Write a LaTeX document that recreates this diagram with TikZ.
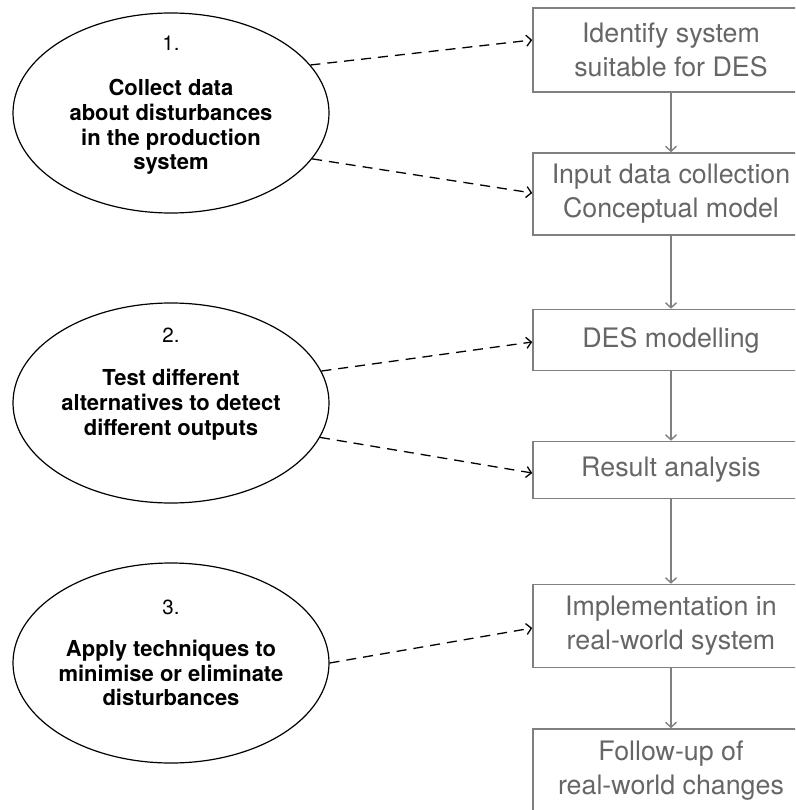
\documentclass[tikz,border=0pt]{standalone}
\usepackage{fontspec}
\setmainfont{TeX Gyre Heros}
\usetikzlibrary{shapes.geometric,arrows.meta}
\definecolor{boxline}{HTML}{808080}
\definecolor{boxtext}{HTML}{666666}
\tikzset{
  stepbox/.style={draw=boxline, line width=1.6pt, text=boxtext, align=center,
    minimum width=276pt, inner sep=0pt,
    font=\fontsize{26.8}{34}\selectfont},
  goal/.style={draw=black, line width=1.2pt, ellipse, minimum width=316pt,
    minimum height=200pt, inner sep=0pt},
  goalnum/.style={font=\fontsize{20.5}{24}\selectfont},
  goaltext/.style={align=center, font=\fontsize{22}{24.8}\selectfont\bfseries},
  flow/.style={draw=boxline, line width=1.4pt, -{Straight Barb[length=5pt,width=11pt]}},
  link/.style={draw=black, line width=1.3pt, dash pattern=on 10pt off 7pt,
    -{Straight Barb[length=5pt,width=11pt]}}
}
\begin{document}
\begin{tikzpicture}[x=1pt,y=-1pt]
\useasboundingbox (0,0) rectangle (795,810);
\clip (0,0) rectangle (795,810);

% process steps
\node[stepbox, minimum height=84pt] (b1) at (671,50) {Identify system\\suitable for DES};
\node[stepbox, minimum height=82pt] (b2) at (671,194) {Input data collection\\Conceptual model};
\node[stepbox, minimum height=61pt] (b3) at (671,340) {DES modelling};
\node[stepbox, minimum height=57pt] (b4) at (671,470) {Result analysis};
\node[stepbox, minimum height=83pt] (b5) at (671,626) {Implementation in\\real-world system};
\node[stepbox, minimum height=84pt] (b6) at (671,771) {Follow-up of\\real-world changes};

\draw[flow] (b1) -- (b2);
\draw[flow] (b2) -- (b3);
\draw[flow] (b3) -- (b4);
\draw[flow] (b4) -- (b5);
\draw[flow] (b5) -- (b6);

% improvement activities
\node[goal] (e1) at (171,113) {};
\node[goalnum] (n1) at (171,43) {1.};
\node[goaltext] (t1) at (171,127) {Collect data\\about disturbances\\in the production\\system};

\node[goal] (e2) at (171,403) {};
\node[goalnum] (n2) at (171,335) {2.};
\node[goaltext] (t2) at (171,405) {Test different\\alternatives to detect\\different outputs};

\node[goal] (e3) at (171,663) {};
\node[goalnum] (n3) at (171,607) {3.};
\node[goaltext] (t3) at (171,673) {Apply techniques to\\minimise or eliminate\\disturbances};

% links from activities to steps
\draw[link] (e1.19) -- ([yshift=10pt]b1.west);
\draw[link] (e1.-18) -- ([yshift=1pt]b2.west);
\draw[link] (e2.12) -- ([yshift=-2pt]b3.west);
\draw[link] (e2.-13) -- ([yshift=-3pt]b4.west);
\draw[link] (e3.east) -- ([yshift=-2pt]b5.west);
\end{tikzpicture}
\end{document}
